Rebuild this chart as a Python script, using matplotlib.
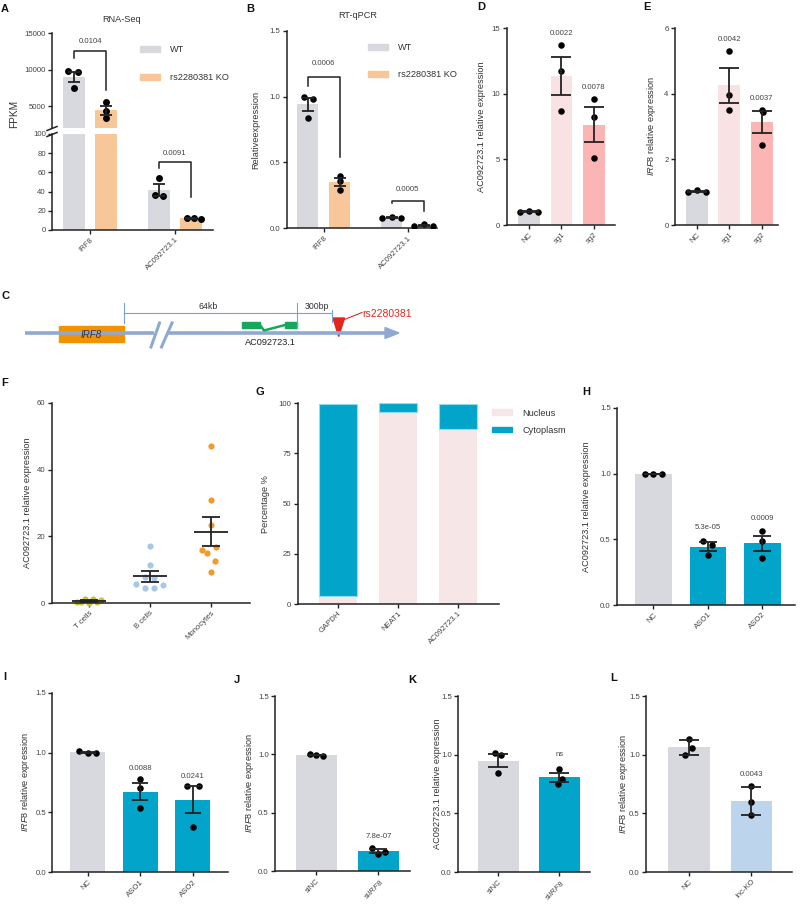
import numpy as np
import matplotlib.pyplot as plt
from matplotlib.patches import Patch, Polygon, Rectangle

plt.rcParams['font.family'] = ['Liberation Sans', 'DejaVu Sans']
plt.rcParams['mathtext.fontset'] = 'custom'
plt.rcParams['mathtext.rm'] = 'Liberation Sans'
plt.rcParams['mathtext.it'] = 'Liberation Sans:italic'

W, H = 800, 905

# ---- data ----
# A: RNA-Seq (FPKM)
a_genes = ['IRF8', 'AC092723.1']
a_wt = [[9800, 9700, 7550], [54, 36, 35]]
a_ko = [[5600, 4400, 3450], [13, 12, 11]]
a_p = ['0.0104', '0.0091']

# B: RT-qPCR
b_genes = ['IRF8', 'AC092723.1']
b_wt = [[1.0, 0.98, 0.84], [0.08, 0.085, 0.08]]
b_ko = [[0.40, 0.36, 0.29], [0.02, 0.03, 0.02]]
b_p = ['0.0006', '0.0005']

# D / E: CRISPRa
de_groups = ['NC', 'sg1', 'sg2']
d_vals = [[1.0, 1.05, 1.0], [13.7, 11.7, 8.7], [9.6, 8.2, 5.1]]
d_p = ['', '0.0022', '0.0078']
e_vals = [[1.0, 1.07, 1.0], [5.3, 3.97, 3.5], [3.5, 3.45, 2.45]]
e_p = ['', '0.0042', '0.0037']

# F: cell types
f_cells = ['T cells', 'B cells', 'Monocytes']
f_vals = [[0.4, 0.3, 1.3, 0.2, 1.4, 0.3, 1.0],
          [17, 11.4, 7.8, 7.6, 5.7, 5.6, 4.5, 4.6],
          [47, 31, 23.5, 16.8, 16, 15, 12.8, 9.3]]

# G: fractionation
g_genes = ['GAPDH', 'NEAT1', 'AC092723.1']
g_nucleus = [4, 95.5, 87.3]
g_cyto = [95.5, 4.5, 12.2]

# H / I: ASO knockdown
hi_groups = ['NC', 'ASO1', 'ASO2']
h_vals = [[1.0, 1.0, 1.0], [0.49, 0.46, 0.38], [0.56, 0.49, 0.36]]
h_p = ['', '5.3e-05', '0.0009']
i_vals = [[1.01, 1.0, 1.0], [0.78, 0.70, 0.54], [0.72, 0.72, 0.38]]
i_p = ['', '0.0088', '0.0241']

# J / K: siIRF8
jk_groups = ['siNC', 'si$\\mathit{IRF8}$']
j_vals = [[1.0, 0.995, 0.99], [0.20, 0.145, 0.16]]
j_p = ['', '7.8e-07']
k_vals = [[1.01, 1.0, 0.84], [0.88, 0.79, 0.75]]
k_p = ['', 'ns']

# L: lnc-KO
l_groups = ['NC', 'lnc-KO']
l_vals = [[1.13, 1.06, 1.0], [0.73, 0.60, 0.49]]
l_p = ['', '0.0043']

# ---- style ----
GRAY = '#d8d9de'
ORANGE = '#f7c699'
PINK1 = '#f8e2e3'
PINK2 = '#fbb5b5'
TEAL = '#02a5c9'
LBLUE = '#bcd4ec'
INK = '#222222'
TXT = '#444444'
FS_TICK, FS_LAB = 5.6, 6.6

fig = plt.figure(figsize=(W / 100, H / 100), dpi=100)


def px_axes(x0, y0, x1, y1):
    ax = fig.add_axes([x0 / W, 1 - y1 / H, (x1 - x0) / W, (y1 - y0) / H])
    ax.patch.set_visible(False)
    ax.spines[['top', 'right']].set_visible(False)
    for s in ('left', 'bottom'):
        ax.spines[s].set_linewidth(1.1)
        ax.spines[s].set_color(INK)
    ax.tick_params(length=3, width=1, color=INK, labelsize=FS_TICK, labelcolor=TXT, pad=1.5)
    return ax


def ylab(ax, text, xpx, ycen=0.5):
    bb = ax.get_position()
    ax.set_ylabel(text, fontsize=FS_LAB, color='#333', va='center')
    ax.yaxis.set_label_coords((xpx / W - bb.x0) / bb.width, ycen)


def xlabs(ax, labels, pos=None):
    ax.set_xticks(range(len(labels)) if pos is None else pos)
    ax.set_xticklabels(labels, rotation=45, ha='right', rotation_mode='anchor', fontsize=FS_TICK)


def mean_err(vals, sd=False):
    v = np.asarray(vals, float)
    e = v.std(ddof=1) if sd else v.std(ddof=1) / np.sqrt(len(v))
    return v, v.mean(), e


def draw_bar(ax, x, vals, color, jit, width, cap, dot, sd=False):
    v, m, e = mean_err(vals, sd)
    ax.bar(x, m, width, color=color, zorder=1)
    ax.scatter(x + np.asarray(jit), v, s=dot, color='black', linewidths=0, zorder=3)
    ax.errorbar(x, m, yerr=e, fmt='none', ecolor=INK, elinewidth=1.3,
                capsize=cap, capthick=1.3, zorder=4)
    return v, m, e


def bar_panel(ax, vals, colors, jit, cap, pvals, ppad, sd=False, width=0.67, dot=22):
    for i, vv in enumerate(vals):
        v, m, e = draw_bar(ax, i, vv, colors[i], jit[i], width, cap, dot, sd)
        if pvals[i]:
            ax.text(i, max(v.max(), m + e) + ppad, pvals[i], ha='center', va='bottom',
                    fontsize=FS_TICK, color=TXT)


def bracket(ax, x1, x2, g1, g2, label, top_gap, gap1, gap2, pad):
    top = max(max(g1), max(g2)) + top_gap
    ax.plot([x1, x1, x2, x2], [max(g1) + gap1, top, top, max(g2) + gap2],
            color=INK, lw=1.1, zorder=5)
    ax.text((x1 + x2) / 2, top + pad, label, ha='center', va='bottom',
            fontsize=FS_TICK, color=TXT)


def legend(ax, labels, colors, x, y, spacing):
    handles = [Patch(color=c, label=l) for l, c in zip(labels, colors)]
    ax.legend(handles=handles, loc='upper left', bbox_to_anchor=(x / W, 1 - y / H),
              bbox_transform=fig.transFigure, frameon=False, fontsize=FS_LAB,
              borderpad=0, borderaxespad=0, handlelength=2.2, handleheight=0.6,
              handletextpad=1.1, labelspacing=spacing, labelcolor='#333')


# ---- A: broken axis ----
OFF = 0.19
a_jw = [[-0.07, 0.05, 0], [0, -0.05, 0.05]]
a_jk = [[0, 0, 0], [-0.05, 0.04, 0.12]]
a_up = px_axes(52, 33.3, 213, 127.7)
a_lo = px_axes(52, 134, 213, 230)
for ax in (a_up, a_lo):
    for gi in range(len(a_genes)):
        draw_bar(ax, gi - OFF, a_wt[gi], GRAY, a_jw[gi], 0.26, 4.3, 25)
        draw_bar(ax, gi + OFF, a_ko[gi], ORANGE, a_jk[gi], 0.26, 4.3, 25)
    ax.set_xlim(-0.45, 1.45)
a_up.set_ylim(2100, 15000)
a_up.set_yticks([5000, 10000, 15000])
a_up.spines['bottom'].set_visible(False)
a_up.set_xticks([])
a_lo.set_ylim(0, 100)
a_lo.set_yticks(range(0, 101, 20))
xlabs(a_lo, a_genes)
bracket(a_up, -OFF, OFF, a_wt[0], a_ko[0], a_p[0], 2790, 1800, 1670, 750)
bracket(a_lo, 1 - OFF, 1 + OFF, a_wt[1], a_ko[1], a_p[1], 17, 10.6, 21, 5)
legend(a_up, ['WT', 'rs2280381 KO'], [GRAY, ORANGE], 140, 45.5, 2.0)
fig.text(14 / W, 1 - 114 / H, 'FPKM', rotation=90, ha='center', va='center',
         fontsize=FS_LAB + 0.6, color='#333')
fig.text(122 / W, 1 - 19 / H, 'RNA-Seq', ha='center', va='center', fontsize=FS_LAB, color='#333')

# ---- B ----
b_jw = [[-0.04, 0.06, 0], [-0.11, 0, 0.11]]
b_jk = [[0, 0, 0], [-0.11, 0, 0.11]]
ax = px_axes(286.7, 30.7, 437, 228.3)
for gi in range(len(b_genes)):
    draw_bar(ax, gi - OFF, b_wt[gi], GRAY, b_jw[gi], 0.25, 4.0, 22)
    draw_bar(ax, gi + OFF, b_ko[gi], ORANGE, b_jk[gi], 0.25, 4.0, 22)
ax.set_xlim(-0.44, 1.35)
ax.set_ylim(0, 1.5)
ax.set_yticks([0, 0.5, 1.0, 1.5])
xlabs(ax, b_genes)
ylab(ax, 'Relativeexpression', 255.7)
bracket(ax, -OFF, OFF, b_wt[0], b_ko[0], b_p[0], 0.15, 0.08, 0.14, 0.075)
bracket(ax, 1 - OFF, 1 + OFF, b_wt[1], b_ko[1], b_p[1], 0.125, 0.105, 0.104, 0.055)
legend(ax, ['WT', 'rs2280381 KO'], [GRAY, ORANGE], 368, 43, 2.0)
fig.text(358 / W, 1 - 16 / H, 'RT-qPCR', ha='center', va='center', fontsize=FS_LAB, color='#333')

# ---- D ----
ax = px_axes(506.7, 28, 615, 225)
bar_panel(ax, d_vals, [GRAY, PINK1, PINK2], [[-0.27, 0, 0.27], [0, 0, 0], [0, 0, 0]],
          7.5, d_p, 0.6)
ax.set_xlim(-0.69, 2.65)
ax.set_ylim(0, 15)
ax.set_yticks([0, 5, 10, 15])
xlabs(ax, de_groups)
ylab(ax, 'AC092723.1 relative expression', 481)

# ---- E ----
ax = px_axes(675, 28, 778, 225)
bar_panel(ax, e_vals, [GRAY, PINK1, PINK2], [[-0.27, 0, 0.27], [0, 0, 0], [0, 0.04, 0]],
          7.5, e_p, 0.25)
ax.set_xlim(-0.67, 2.5)
ax.set_ylim(0, 6)
ax.set_yticks([0, 2, 4, 6])
xlabs(ax, de_groups)
ylab(ax, '$\\mathit{IRF8}$ relative expression', 651)

# ---- F ----
f_colors = ['#c9c23a', '#a9c6e8', '#f39a2b']
f_jit = [[-0.2, -0.13, -0.06, 0, 0.06, 0.13, 0.2],
         [0, 0, -0.08, 0.07, -0.23, 0.22, -0.08, 0.07],
         [0, 0, 0, 0.08, -0.15, -0.07, 0.07, 0]]
ax = px_axes(51.7, 402.7, 250, 603.3)
for i, vv in enumerate(f_vals):
    v, m, e = mean_err(vv)
    ax.scatter(i + np.asarray(f_jit[i]), v, s=20, color=f_colors[i], linewidths=0,
               zorder=2, clip_on=False)
    ax.hlines(m, i - 0.28, i + 0.28, color=INK, lw=1.3, zorder=3)
    ax.errorbar(i, m, yerr=e, fmt='none', ecolor=INK, elinewidth=1.3,
                capsize=6.5, capthick=1.3, zorder=3)
ax.set_xlim(-0.61, 2.64)
ax.set_ylim(0, 60)
ax.set_yticks([0, 20, 40, 60])
xlabs(ax, f_cells)
ylab(ax, 'AC092723.1 relative expression', 27)

# ---- G ----
ax = px_axes(297.7, 403.3, 499, 604)
x = np.arange(len(g_genes))
ax.bar(x, g_nucleus, 0.63, color='#f7e6e8', label='Nucleus')
ax.bar(x, g_cyto, 0.63, bottom=g_nucleus, color=TEAL, edgecolor='#8fdcec',
       linewidth=0.8, label='Cytoplasm')
ax.set_xlim(-0.67, 2.68)
ax.set_ylim(0, 100)
ax.set_yticks([0, 25, 50, 75, 100])
xlabs(ax, g_genes)
ylab(ax, 'Percentage %', 266)
legend(ax, ['Nucleus', 'Cytoplasm'], ['#f7e6e8', TEAL], 492, 408.5, 0.9)

# ---- H ----
ax = px_axes(617, 408, 795, 605)
bar_panel(ax, h_vals, [GRAY, TEAL, TEAL], [[-0.15, 0, 0.15], [-0.09, 0.07, 0], [0, 0, 0]],
          6.5, h_p, 0.07)
ax.set_xlim(-0.67, 2.6)
ax.set_ylim(0, 1.5)
ax.set_yticks([0, 0.5, 1.0, 1.5])
xlabs(ax, hi_groups)
ylab(ax, 'AC092723.1 relative expression', 586.7)

# ---- I ----
ax = px_axes(52.3, 692.7, 228, 872.3)
bar_panel(ax, i_vals, [GRAY, TEAL, TEAL], [[-0.17, 0, 0.17], [0, 0, 0], [-0.1, 0.12, 0]],
          6, i_p, 0.055)
ax.set_xlim(-0.67, 2.67)
ax.set_ylim(0, 1.5)
ax.set_yticks([0, 0.5, 1.0, 1.5])
xlabs(ax, hi_groups)
ylab(ax, '$\\mathit{IRF8}$ relative expression', 25)

# ---- J ----
ax = px_axes(275, 696, 410, 871)
bar_panel(ax, j_vals, [GRAY, TEAL], [[-0.1, 0, 0.1], [-0.11, 0, 0.1]], 6.5, j_p, 0.07)
ax.set_xlim(-0.67, 1.51)
ax.set_ylim(0, 1.5)
ax.set_yticks([0, 0.5, 1.0, 1.5])
xlabs(ax, jk_groups)
ylab(ax, '$\\mathit{IRF8}$ relative expression', 249)

# ---- K ----
ax = px_axes(458, 696, 590, 872)
bar_panel(ax, k_vals, [GRAY, TEAL], [[-0.06, 0.05, 0], [0, 0.04, -0.03]], 7.5, k_p, 0.09)
ax.set_xlim(-0.66, 1.5)
ax.set_ylim(0, 1.5)
ax.set_yticks([0, 0.5, 1.0, 1.5])
xlabs(ax, jk_groups)
ylab(ax, 'AC092723.1 relative expression', 437)

# ---- L ----
ax = px_axes(646, 696, 792, 872)
bar_panel(ax, l_vals, [GRAY, LBLUE], [[0, 0.05, -0.06], [0, 0, 0]], 7, l_p, 0.075, sd=True)
ax.set_xlim(-0.69, 1.65)
ax.set_ylim(0, 1.5)
ax.set_yticks([0, 0.5, 1.0, 1.5])
xlabs(ax, l_groups)
ylab(ax, '$\\mathit{IRF8}$ relative expression', 623)

# ---- overlay: panel C schematic, break marks, letters ----
ov = fig.add_axes([0, 0, 1, 1])
ov.set_xlim(0, W)
ov.set_ylim(H, 0)
ov.axis('off')

for yb in (130.5, 136.5):
    ov.plot([47, 57], [yb, yb - 4], color=INK, lw=1.1)

blue = '#8eaad2'
ov.plot([25, 154], [333, 333], color=blue, lw=2.6, solid_capstyle='butt')
ov.plot([167, 388], [333, 333], color=blue, lw=2.6, solid_capstyle='butt')
ov.add_patch(Polygon([[385, 327.5], [399, 333], [385, 338.5]], color=blue))
ov.plot([151, 159.5], [347, 323], color=blue, lw=2.2)
ov.plot([161.5, 172], [347, 323], color=blue, lw=2.2)
ov.add_patch(Rectangle((59, 326), 65, 16, color='#f39200'))
ov.text(91.5, 334.5, 'IRF8', style='italic', ha='center', va='center', fontsize=7, color='#333')

thin = '#7ba3d8'
ov.plot([124, 124], [302.7, 323], color=thin, lw=0.8)
ov.plot([124, 332], [313.3, 313.3], color=thin, lw=0.8)
ov.plot([297, 297], [302.7, 328], color=thin, lw=0.8)
ov.plot([332, 332], [310, 322], color=thin, lw=0.8)
ov.text(208, 306, '64kb', ha='center', va='center', fontsize=6.3, color='#333')
ov.text(317, 306, '300bp', ha='center', va='center', fontsize=6.3, color='#333')

green = '#16a75c'
ov.add_patch(Rectangle((242, 322), 18, 6, color=green))
ov.add_patch(Rectangle((285, 322), 12, 6, color=green))
ov.plot([260, 264, 285], [325, 330.5, 325], color=green, lw=1.8)
ov.text(270, 342.5, 'AC092723.1', ha='center', va='center', fontsize=6.6, color='#222')

red = '#e0261f'
ov.add_patch(Polygon([[333, 318], [344.5, 318], [338.7, 336.5]], color=red))
ov.plot([342, 362], [320.5, 312.5], color=red, lw=0.8)
ov.text(362, 314, 'rs2280381', ha='left', va='center', fontsize=7.5, color=red)

for lt, lx, ly in [('A', 5, 9), ('B', 250, 9), ('D', 481, 7), ('E', 647, 7),
                   ('C', 5, 296), ('F', 5, 383), ('G', 260, 392), ('H', 586, 392),
                   ('I', 5, 677), ('J', 237, 680), ('K', 412, 680), ('L', 614, 678)]:
    ov.text(lx, ly, lt, fontsize=8, fontweight='bold', ha='center', va='center', color='#111')

fig.savefig('out.png', dpi=100)
